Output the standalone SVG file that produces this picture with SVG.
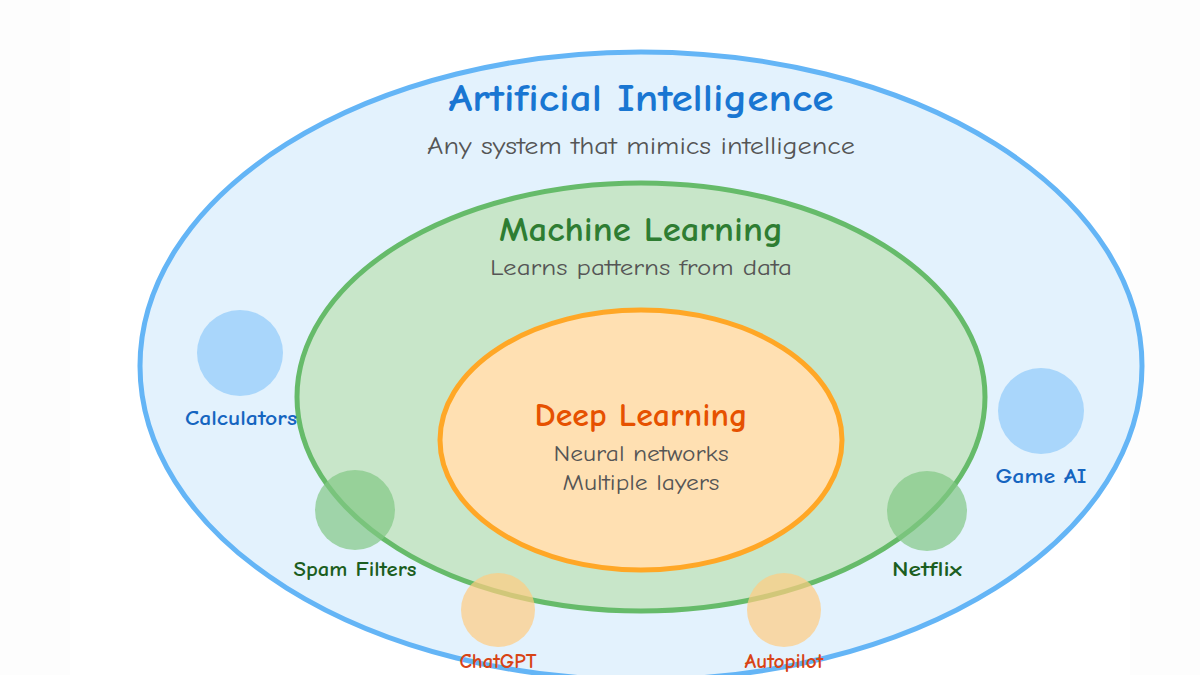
<svg xmlns="http://www.w3.org/2000/svg" width="1200" height="675" viewBox="0 0 1200 675">
<style>
.t{font-family:"Comic Neue","Liberation Sans","DejaVu Sans",sans-serif;text-anchor:middle}
.h{font-weight:bold}
.sub{fill:#555555}
.lab{font-weight:bold;font-size:20px}
.ai{fill:#90caf9;opacity:0.7}
.ml{fill:#81c784;opacity:0.7}
.dl{fill:#ffcc80;opacity:0.7}
</style>
<rect width="1200" height="675" fill="#fdfdfd"/>
<rect x="70" width="1060" height="675" fill="#ffffff"/>
<g id="ai">
<ellipse cx="641" cy="366" rx="501" ry="314" fill="#e3f2fd" stroke="#64b5f6" stroke-width="5"/>
<text class="t h" x="641" y="111" font-size="39" fill="#1976d2" textLength="385" lengthAdjust="spacingAndGlyphs">Artificial Intelligence</text>
<text class="t sub" x="641" y="154" font-size="25" textLength="428" lengthAdjust="spacingAndGlyphs">Any system that mimics intelligence</text>
</g>
<g id="ml">
<ellipse cx="641" cy="397" rx="344" ry="214" fill="#c8e6c9" stroke="#66bb6a" stroke-width="5"/>
<text class="t h" x="641" y="241" font-size="34" fill="#2e7d32" textLength="284" lengthAdjust="spacingAndGlyphs">Machine Learning</text>
<text class="t sub" x="641" y="275" font-size="23" textLength="302" lengthAdjust="spacingAndGlyphs">Learns patterns from data</text>
</g>
<g id="dl">
<ellipse cx="641" cy="440" rx="201" ry="130" fill="#ffe0b2" stroke="#ffa726" stroke-width="5"/>
<text class="t h" x="641" y="426" font-size="32" fill="#e65100" textLength="213" lengthAdjust="spacingAndGlyphs">Deep Learning</text>
<text class="t sub" x="641" y="461" font-size="23" textLength="175" lengthAdjust="spacingAndGlyphs">Neural networks</text>
<text class="t sub" x="641" y="490" font-size="23" textLength="157" lengthAdjust="spacingAndGlyphs">Multiple layers</text>
</g>
<g id="calculators">
<circle class="ai" cx="240" cy="353" r="43"/>
<text class="t lab" x="241" y="425" fill="#1565c0" textLength="112" lengthAdjust="spacingAndGlyphs">Calculators</text>
</g>
<g id="game-ai">
<circle class="ai" cx="1041" cy="411" r="43"/>
<text class="t lab" x="1041" y="483" fill="#1565c0" textLength="91" lengthAdjust="spacingAndGlyphs">Game AI</text>
</g>
<g id="spam-filters">
<circle class="ml" cx="355" cy="510" r="40"/>
<text class="t lab" x="355" y="576" fill="#1b5e20" textLength="123" lengthAdjust="spacingAndGlyphs">Spam Filters</text>
</g>
<g id="netflix">
<circle class="ml" cx="927" cy="511" r="40"/>
<text class="t lab" x="927" y="576" fill="#1b5e20" textLength="70" lengthAdjust="spacingAndGlyphs">Netflix</text>
</g>
<g id="chatgpt">
<circle class="dl" cx="498" cy="610" r="37"/>
<text class="t lab" x="498" y="668" font-size="18" fill="#d84315" textLength="77" lengthAdjust="spacingAndGlyphs">ChatGPT</text>
</g>
<g id="autopilot">
<circle class="dl" cx="784" cy="610" r="37"/>
<text class="t lab" x="784" y="668" font-size="18" fill="#d84315" textLength="79" lengthAdjust="spacingAndGlyphs">Autopilot</text>
</g>
<g id="connectors"></g>
</svg>
